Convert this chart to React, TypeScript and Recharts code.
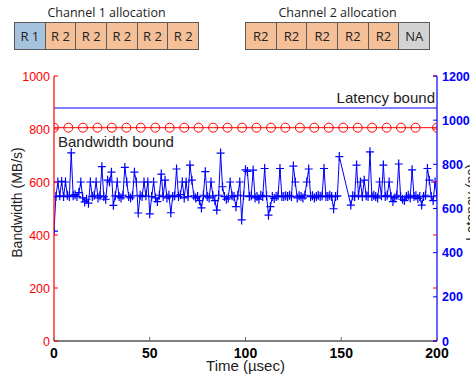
import React from 'react';
import { ComposedChart, Line, XAxis, YAxis, ReferenceLine } from 'recharts';

// ---- data ----
const ch1Alloc = ['R 1', 'R 2', 'R 2', 'R 2', 'R 2', 'R 2'];
const ch2Alloc = ['R2', 'R2', 'R2', 'R2', 'R2', 'NA'];

const xTicks = [0, 50, 100, 150, 200];
const bwTicks = [0, 200, 400, 600, 800, 1000];
const latTicks = [0, 200, 400, 600, 800, 1000, 1200];

const latencyBound = 1055; // ns (right axis)
const bandwidthBound = 805; // MB/s (left axis)
const latencyTimes = [0, 200];

const boundTimes = [0, 7.5, 15.1, 22.7, 30.2, 37.8, 45.3, 52.9, 60.4, 68, 75.5, 83.1, 90.6, 98.2, 105.7, 113.3, 120.8, 128.4, 135.9, 143.5, 151, 158.6, 166.1, 173.7, 181.2, 188.8, 200];

const bwTimes = [
  0, 1, 2, 3, 4, 5, 6, 7, 8, 9,
  10, 11, 12, 13, 14, 15, 16, 17, 18, 19,
  20, 21, 22, 23, 24, 25, 26, 27, 28, 29,
  30, 31, 32, 33, 34, 35, 36, 37, 38, 39,
  40, 41, 42, 43, 44, 45, 46, 47, 48, 49,
  50, 51, 52, 53, 54, 55, 56, 57, 58, 59,
  60, 61, 62, 63, 64, 65, 66, 67, 68, 69,
  70, 71, 72, 73, 74, 75, 76, 77, 78, 79,
  80, 81, 82, 83, 84, 85, 86, 87, 88, 89,
  90, 91, 92, 93, 94, 95, 96, 97, 98, 99,
  100, 101, 102, 103, 104, 105, 106, 107, 108, 109,
  110, 111, 112, 113, 114, 115, 116, 117, 118, 119,
  120, 121, 122, 123, 124, 125, 126, 127, 128, 129,
  130, 131, 132, 133, 134, 135, 136, 137, 138, 139,
  140, 141, 142, 143, 144, 145, 146, 147, 148, 149,
  155, 156, 157, 158, 159,
  160, 161, 162, 163, 164, 165, 166, 167, 168, 169,
  170, 171, 172, 173, 174, 175, 176, 177, 178, 179,
  180, 181, 182, 183, 184, 185, 186, 187, 188, 189,
  190, 191, 192, 193, 194, 195, 196, 197, 198, 199, 200,
];

const bwValues = [
  415, 545, 600, 548, 602, 545, 600, 550, 545, 710,
  548, 552, 545, 560, 600, 540, 525, 535, 520, 600,
  545, 550, 600, 540, 548, 658, 545, 535, 607, 600,
  637, 512, 548, 600, 545, 540, 550, 655, 600, 545,
  540, 548, 637, 600, 483, 550, 545, 600, 548, 600,
  480, 545, 600, 540, 526, 550, 630, 545, 607, 540,
  550, 484, 545, 548, 649, 545, 552, 600, 540, 600,
  545, 664, 607, 548, 540, 545, 530, 502, 550, 639,
  545, 540, 600, 548, 530, 494, 550, 709, 582, 545,
  535, 540, 600, 548, 545, 507, 550, 600, 457, 548,
  646, 640, 545, 548, 645, 540, 545, 535, 550, 545,
  651, 548, 475, 507, 545, 538, 545, 548, 651, 545,
  545, 548, 545, 550, 545, 660, 600, 540, 548, 545,
  540, 550, 600, 649, 545, 548, 540, 545, 550, 545,
  548, 651, 545, 545, 550, 545, 499, 545, 548, 696,
  513, 548, 545, 664, 550,
  600, 545, 607, 548, 545, 714, 545, 550, 545, 540,
  600, 548, 664, 545, 550, 600, 545, 526, 540, 550,
  668, 545, 535, 530, 545, 550, 540, 646, 545, 548,
  538, 545, 513, 545, 550, 651, 607, 545, 530, 600, 548,
];

const bwData = bwTimes.map((t, i) => ({ t, bw: bwValues[i] }));
const boundData = boundTimes.map((t) => ({ t, bound: bandwidthBound }));
const latencyData = latencyTimes.map((t) => ({ t, lat: latencyBound }));

// ---- layout ----
const W = 470;
const H = 375;
const LEFT_W = 54;
const RIGHT_W = 33;
const TOP = 76;
const X_H = 34;
const TM = 4;
const PLOT_R = W - RIGHT_W;
const FONT = '"Liberation Sans", Arial, Helvetica, sans-serif';

const LeftTick = (p: any) => {
  const { x, y, payload } = p;
  const edge = x + TM;
  return (
    <g>
      <line x1={edge} x2={edge + 4} y1={y} y2={y} stroke="#ff0000" />
      <line x1={PLOT_R} x2={PLOT_R - 4} y1={y} y2={y} stroke="#ff0000" />
      <text x={x} y={y} dy="0.36em" textAnchor="end" fill="#ff0000" fontSize={12.5} fontFamily={FONT}>
        {payload.value}
      </text>
    </g>
  );
};

const RightTick = (p: any) => {
  const { x, y, payload } = p;
  const edge = x - TM - 1;
  return (
    <g>
      <line x1={edge} x2={edge - 4} y1={y} y2={y} stroke="#0000ff" />
      <text x={x} y={y} dy="0.36em" textAnchor="start" fill="#0000ff" fontSize={12.5} fontWeight="bold" fontFamily={FONT}>
        {payload.value}
      </text>
    </g>
  );
};

const BottomTick = (p: any) => {
  const { x, y, payload } = p;
  const edge = y - 7;
  return (
    <g>
      <line x1={x} x2={x} y1={edge} y2={edge - 4} stroke="#666" />
      <text x={x} y={y} dy="0.72em" textAnchor="middle" fill="#000" fontSize={14} fontWeight="bold" fontFamily={FONT}>
        {payload.value}
      </text>
    </g>
  );
};

const TopTick = (p: any) => {
  const { x, y } = p;
  const edge = y + TM;
  return <line x1={x} x2={x} y1={edge} y2={edge + 4} stroke="#888" />;
};

const PlusDot = (p: any) => {
  const { cx, cy } = p;
  if (cx == null || cy == null) return null;
  return (
    <path
      d={`M${cx - 4},${cy}H${cx + 4}M${cx},${cy - 4.5}V${cy + 4.5}`}
      stroke="#0000ff"
      strokeWidth={1.2}
      fill="none"
    />
  );
};

const CircleDot = (p: any) => {
  const { cx, cy } = p;
  if (cx == null || cy == null) return null;
  return <circle cx={cx} cy={cy} r={4.5} stroke="#ff0000" strokeWidth={1} fill="none" />;
};

const LeftLabel = (p: any) => {
  const vb = p.viewBox || { x: 0, y: TOP, width: LEFT_W, height: 265 };
  const cx = vb.x + 22;
  const cy = vb.y + vb.height / 2 - 6;
  return (
    <text x={cx} y={cy} transform={`rotate(-90 ${cx} ${cy})`} textAnchor="middle" fill="#222" fontSize={14} fontFamily={FONT}>
      Bandwidth (MB/s)
    </text>
  );
};

const RightLabel = (p: any) => {
  const vb = p.viewBox || { x: PLOT_R, y: TOP, width: RIGHT_W, height: 265 };
  const cx = vb.x + vb.width + 6;
  const cy = vb.y + vb.height / 2 - 6;
  return (
    <text x={cx} y={cy} transform={`rotate(-90 ${cx} ${cy})`} textAnchor="middle" fill="#222" fontSize={14} fontFamily={FONT}>
      Latency (ns)
    </text>
  );
};

const BottomLabel = (p: any) => {
  const vb = p.viewBox || { x: LEFT_W, y: H - X_H, width: PLOT_R - LEFT_W, height: X_H };
  const cx = vb.x + vb.width / 2;
  const cy = vb.y + 30;
  return (
    <text x={cx} y={cy} textAnchor="middle" fill="#222" fontSize={15} fontFamily={FONT}>
      Time (µsec)
    </text>
  );
};

const boxColor = (label: string) => {
  if (label.replace(' ', '') === 'R1') return '#a6c3de';
  if (label === 'NA') return '#d3d3d3';
  return '#f5bf98';
};

const Allocation = ({ title, items, left }: { title: string; items: string[]; left: number }) => (
  <div style={{ position: 'absolute', left, top: 4, width: 185, fontFamily: '"Open Sans", "Noto Sans", sans-serif' }}>
    <div style={{ textAlign: 'center', fontSize: 12.5, lineHeight: '18px', color: '#222' }}>{title}</div>
    <div style={{ display: 'flex', height: 28, borderTop: '1px solid #5a5a5a', borderLeft: '1px solid #5a5a5a', boxSizing: 'border-box' }}>
      {items.map((it, i) => (
        <div
          key={i}
          style={{
            flex: 1,
            background: boxColor(it),
            borderRight: '1px solid #5a5a5a',
            borderBottom: '1px solid #5a5a5a',
            display: 'flex',
            alignItems: 'center',
            justifyContent: 'center',
            fontSize: 13,
            color: '#222',
          }}
        >
          {it}
        </div>
      ))}
    </div>
  </div>
);

export default function App() {
  return (
    <div style={{ position: 'absolute', left: 0, top: 0, width: W, height: H, background: '#fff', overflow: 'hidden' }}>
      <Allocation title="Channel 1 allocation" items={ch1Alloc} left={14} />
      <Allocation title="Channel 2 allocation" items={ch2Alloc} left={245} />
      <div style={{ position: 'absolute', left: 0, top: 0 }}>
        <ComposedChart width={W} height={H} margin={{ top: TOP, right: 0, bottom: 0, left: 0 }}>
          <XAxis
            xAxisId="main"
            dataKey="t"
            type="number"
            domain={[0, 200]}
            ticks={xTicks}
            allowDataOverflow
            height={X_H}
            tickSize={0}
            tickMargin={7}
            tickLine={false}
            axisLine={{ stroke: '#000', strokeWidth: 1.2 }}
            tick={<BottomTick />}
            label={<BottomLabel />}
            interval={0}
          />
          <XAxis
            xAxisId="top"
            orientation="top"
            dataKey="t"
            type="number"
            domain={[0, 200]}
            ticks={[50, 100, 150]}
            height={0}
            tickSize={0}
            tickMargin={TM}
            tickLine={false}
            axisLine={{ stroke: '#000', strokeWidth: 1 }}
            tick={<TopTick />}
            interval={0}
          />
          <YAxis
            yAxisId="bw"
            orientation="left"
            type="number"
            domain={[0, 1000]}
            ticks={bwTicks}
            width={LEFT_W}
            tickSize={0}
            tickMargin={TM}
            tickLine={false}
            axisLine={{ stroke: '#ff0000', strokeWidth: 1.2 }}
            tick={<LeftTick />}
            label={<LeftLabel />}
            interval={0}
          />
          <YAxis
            yAxisId="lat"
            orientation="right"
            type="number"
            domain={[0, 1200]}
            ticks={latTicks}
            width={RIGHT_W}
            tickSize={0}
            tickMargin={TM + 1}
            tickLine={false}
            axisLine={{ stroke: '#0000ff', strokeWidth: 1.2 }}
            tick={<RightTick />}
            label={<RightLabel />}
            interval={0}
          />
          <Line
            xAxisId="main"
            yAxisId="lat"
            data={latencyData}
            dataKey="lat"
            stroke="#0000ff"
            strokeWidth={1}
            dot={false}
            activeDot={false}
            isAnimationActive={false}
          />
          <ReferenceLine
            xAxisId="main"
            yAxisId="lat"
            y={latencyBound}
            stroke="none"
            label={{ value: 'Latency bound', position: 'insideBottomRight', fill: '#222', fontSize: 15, fontFamily: FONT, offset: 2, dy: -3 }}
          />
          <Line
            xAxisId="main"
            yAxisId="bw"
            data={boundData}
            dataKey="bound"
            stroke="#ff0000"
            strokeWidth={1}
            dot={<CircleDot />}
            activeDot={false}
            isAnimationActive={false}
          />
          <Line
            xAxisId="main"
            yAxisId="bw"
            data={bwData}
            dataKey="bw"
            stroke="#0000ff"
            strokeWidth={1}
            dot={<PlusDot />}
            activeDot={false}
            isAnimationActive={false}
          />
          <ReferenceLine
            xAxisId="main"
            yAxisId="bw"
            y={bandwidthBound}
            stroke="none"
            label={{ value: 'Bandwidth bound', position: 'insideBottomLeft', fill: '#222', fontSize: 15, fontFamily: FONT, offset: 0, dy: 19, dx: 4 }}
          />
        </ComposedChart>
      </div>
    </div>
  );
}
